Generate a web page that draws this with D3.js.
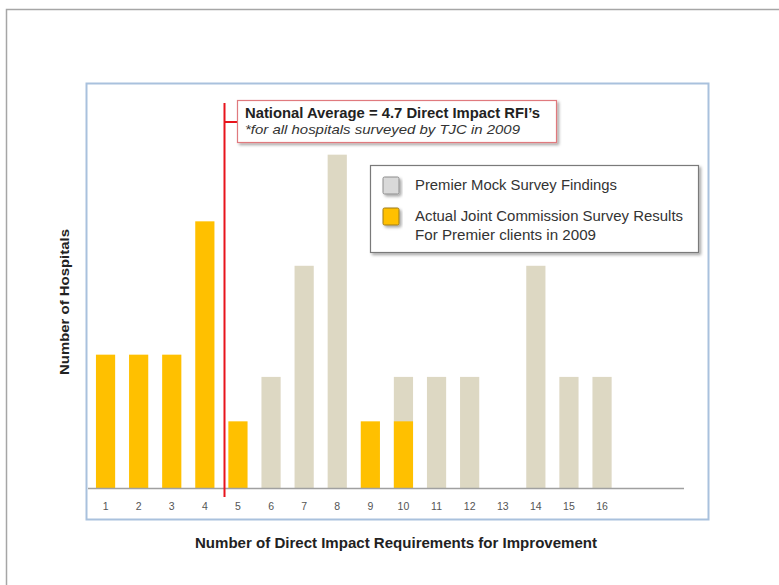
<!DOCTYPE html>
<html><head><meta charset="utf-8">
<script src="https://cdn.jsdelivr.net/npm/d3@7"></script>
<style>body{margin:0;background:#fff}svg{display:block;font-family:"Liberation Sans",Arial,sans-serif}</style>
</head><body>
<script>
const categories = ["1","2","3","4","5","6","7","8","9","10","11","12","13","14","15","16"];
const mockValues = [0,0,0,0,0,5,10,15,0,5,5,5,0,10,5,5];
const actualValues = [6,6,6,12,3,0,0,0,3,3,0,0,0,0,0,0];
const nationalAverage = 4.7;
const legendLabels = [["Premier Mock Survey Findings"],["Actual Joint Commission Survey Results","For Premier clients in 2009"]];

const W=779,H=585;
const svg=d3.select("body").append("svg").attr("width",W).attr("height",H);
const defs=svg.append("defs");
const f=defs.append("filter").attr("id","sh").attr("x","-10%").attr("y","-10%").attr("width","130%").attr("height","140%");
f.append("feDropShadow").attr("dx",2).attr("dy",2).attr("stdDeviation",1.5).attr("flood-color","#000").attr("flood-opacity",0.35);

function fitText(sel,w){ sel.attr("textLength",w).attr("lengthAdjust","spacingAndGlyphs"); return sel; }

// outer frame
svg.append("rect").attr("x",6.5).attr("y",9.5).attr("width",800).attr("height",600).attr("fill","#fff").attr("stroke","#a6a6a6").attr("stroke-width",1.5);
// plot frame
svg.append("rect").attr("x",86.5).attr("y",83.5).attr("width",622).attr("height",436).attr("fill","#fff").attr("stroke","#a9c1dd").attr("stroke-width",2);

const x=d3.scaleBand().domain(categories).range([89,89+16*33.1]).paddingInner(0.42).paddingOuter(0.21);
const y=d3.scaleLinear().domain([0,18]).range([488,88]);

const g=svg.append("g");
g.selectAll(".mock").data(categories.map((c,i)=>({c,v:mockValues[i]})).filter(d=>d.v>0)).join("rect")
 .attr("x",d=>x(d.c)).attr("width",x.bandwidth()).attr("y",d=>y(d.v)).attr("height",d=>y(0)-y(d.v)).attr("fill","#ddd8c3");
g.selectAll(".act").data(categories.map((c,i)=>({c,v:actualValues[i]})).filter(d=>d.v>0)).join("rect")
 .attr("x",d=>x(d.c)).attr("width",x.bandwidth()).attr("y",d=>y(d.v)).attr("height",d=>y(0)-y(d.v)).attr("fill","#ffc000");

// axis
const ax=svg.append("g").attr("transform","translate(0,488.5)").call(d3.axisBottom(x).tickSize(0).tickPadding(14));
ax.select(".domain").remove();
svg.append("line").attr("x1",88).attr("x2",684).attr("y1",488.5).attr("y2",488.5).attr("stroke","#a0a0a0").attr("stroke-width",1.5);
ax.selectAll("text").attr("font-size",10.5).attr("fill","#555").attr("font-family","Liberation Sans,Arial,sans-serif");

// national average line
const xLin=d3.scaleLinear().domain([4,5]).range([x("4")+x.bandwidth()/2,x("5")+x.bandwidth()/2]);
const ax7=Math.round(xLin(nationalAverage)-4)+0.5;
svg.append("line").attr("x1",ax7).attr("x2",ax7).attr("y1",103).attr("y2",497).attr("stroke","#e8141c").attr("stroke-width",2);
svg.append("line").attr("x1",ax7).attr("x2",237).attr("y1",122).attr("y2",122).attr("stroke","#e8141c").attr("stroke-width",2);
svg.append("rect").attr("x",237.5).attr("y",100.5).attr("width",319).attr("height",42).attr("fill","#fff").attr("stroke","#e07a7e").attr("stroke-width",1.2).attr("filter","url(#sh)");
fitText(svg.append("text").attr("x",245).attr("y",118).attr("font-size",14).attr("font-weight","bold").attr("fill","#222").text("National Average = "+nationalAverage+" Direct Impact RFI\u2019s"),295);
fitText(svg.append("text").attr("x",245).attr("y",134).attr("font-size",13.5).attr("font-style","italic").attr("fill","#333").text("*for all hospitals surveyed by TJC in 2009"),275);

// legend
svg.append("rect").attr("x",370.5).attr("y",165.5).attr("width",328).attr("height",87).attr("fill","#fff").attr("stroke","#7a7a7a").attr("stroke-width",1.2).attr("filter","url(#sh)");
const legCols=["#d9d9d9","#ffc000"], legStroke=["#8c8c8c","#9c7a1a"];
const legY=[177,208];
const legW=[[202],[268,181]];
legendLabels.forEach((lines,i)=>{
  svg.append("rect").attr("x",383).attr("y",legY[i]).attr("width",16).attr("height",17).attr("rx",1.5).attr("fill",legCols[i]).attr("stroke",legStroke[i]).attr("stroke-width",1).attr("filter","url(#sh)");
  lines.forEach((t,j)=>fitText(svg.append("text").attr("x",415).attr("y",legY[i]+13+j*19).attr("font-size",14).attr("fill","#333").text(t),legW[i][j]));
});

// axis titles
fitText(svg.append("text").attr("transform","translate(69,302) rotate(-90)").attr("text-anchor","middle").attr("font-size",13.5).attr("font-weight","bold").attr("fill","#222").text("Number of Hospitals"),146);
fitText(svg.append("text").attr("x",396).attr("y",548).attr("text-anchor","middle").attr("font-size",14).attr("font-weight","bold").attr("fill","#222").text("Number of Direct Impact Requirements for Improvement"),402);
</script>
</body></html>
